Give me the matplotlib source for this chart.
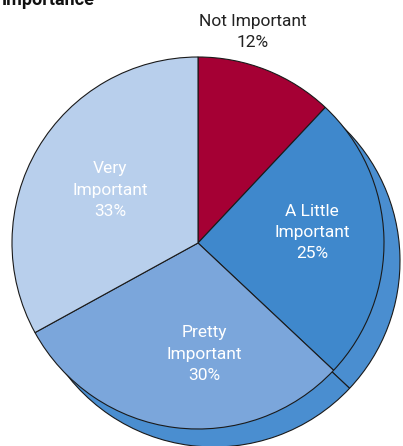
import matplotlib.pyplot as plt
from matplotlib.patches import Wedge

plt.rcParams['font.family'] = ['Liberation Sans Narrow', 'Roboto', 'DejaVu Sans']

labels = ['Not Important', 'A Little\nImportant', 'Pretty\nImportant', 'Very\nImportant']
values = [12, 25, 30, 33]
colors = ['#A50034', '#3F88CC', '#7BA6DB', '#B8CFEC']
shadowed = [False, True, True, False]

fig = plt.figure(figsize=(4.03, 4.46), dpi=100)
ax = fig.add_axes([0, 0, 1, 1])
ax.set_xlim(0, 403)
ax.set_ylim(0, 446)
ax.axis('off')

cx, cy, r = 198, 203, 186
angles = []
a = 90.0
for v in values:
    angles.append((a - v * 3.6, a))
    a -= v * 3.6

# shadow behind some slices
for (t1, t2), s in zip(angles, shadowed):
    if s:
        ax.add_patch(Wedge((cx + 16, cy - 18), r, t1, t2, facecolor='#4A8ED0',
                           edgecolor='#1a1a1a', lw=0.8, zorder=1))
for (t1, t2), c in zip(angles, colors):
    ax.add_patch(Wedge((cx, cy), r, t1, t2, facecolor=c, edgecolor='#1a1a1a', lw=0.8, zorder=2))

label_pos = [(253, 414), (312, 214), (204, 92), (110, 256)]
text_colors = ['#222222', 'white', 'white', 'white']
for lab, v, p, tc in zip(labels, values, label_pos, text_colors):
    ax.text(p[0], p[1], f'{lab}\n{v}%', ha='center', va='center', fontsize=12.5,
            color=tc, linespacing=1.5, zorder=3)

ax.text(2, 446, 'Importance', ha='left', va='center', fontsize=13, fontweight='bold', color='#111111')

fig.savefig('out.png', dpi=100)
